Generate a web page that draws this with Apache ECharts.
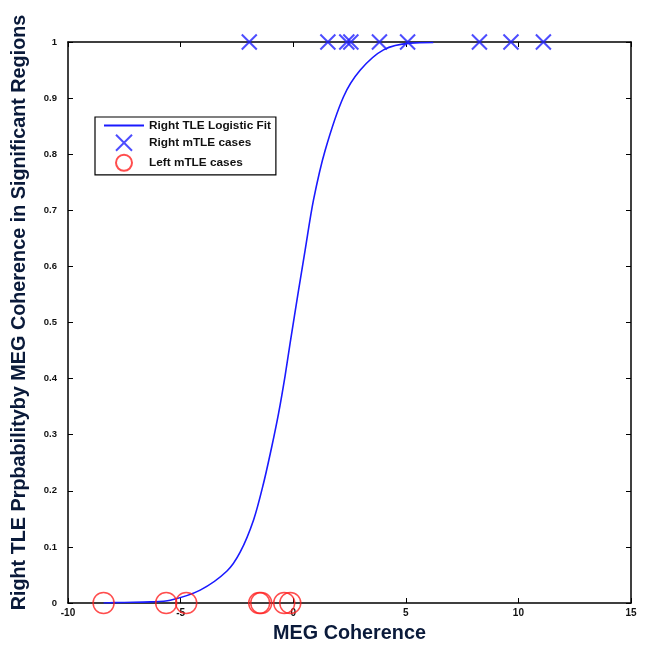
<!DOCTYPE html>
<html>
<head>
<meta charset="utf-8">
<script src="https://cdn.jsdelivr.net/npm/echarts@6/dist/echarts.min.js"></script>
<style>html,body{margin:0;padding:0;background:#fff;}#c{width:650px;height:645px;}</style>
</head>
<body>
<div id="c"></div>
<script>
// Logistic fit curve
const fitX = [-8.42, -7.5, -6.35, -5.46, -4.13, -2.94, -2.35, -1.76, -1.32, -0.95, -0.65, -0.36, -0.13, 0.24, 0.53, 0.90, 1.42, 2.23, 2.98, 4.01, 5.20, 6.22];
const fitY = [0.000, 0.001, 0.002, 0.005, 0.023, 0.057, 0.091, 0.148, 0.213, 0.279, 0.338, 0.405, 0.465, 0.558, 0.629, 0.718, 0.807, 0.902, 0.950, 0.986, 0.998, 0.999];
// Right mTLE cases (y = 1)
const rightX = [-1.95, 1.54, 2.38, 2.56, 3.83, 5.08, 8.27, 9.67, 11.11];
const rightY = [1, 1, 1, 1, 1, 1, 1, 1, 1];
// Left mTLE cases (y = 0)
const leftX = [-8.42, -5.64, -4.75, -1.51, -1.42, -0.40, -0.13];
const leftY = [0, 0, 0, 0, 0, 0, 0];
const xTicks = [-10, -5, 0, 5, 10, 15];
const yTicks = [0, 0.1, 0.2, 0.3, 0.4, 0.5, 0.6, 0.7, 0.8, 0.9, 1];

const fitData = fitX.map((x, i) => [x, fitY[i]]);
const rightData = rightX.map((x, i) => [x, rightY[i]]);
const leftData = leftX.map((x, i) => [x, leftY[i]]);

const font = '"Liberation Sans", Arial, sans-serif';
const crossPath = 'path://M0,0L10,10M10,0L0,10';

const chart = echarts.init(document.getElementById('c'), null, {renderer: 'canvas'});
const axisBase = {
  type: 'value',
  axisLine: {show: true, onZero: false, lineStyle: {color: '#000', width: 1.5}},
  axisTick: {show: true, inside: true, length: 5, lineStyle: {color: '#000', width: 1}},
  splitLine: {show: false}
};
chart.setOption({
  animation: false,
  backgroundColor: '#fff',
  grid: {left: 68, right: 19, top: 42, bottom: 42, containLabel: false, outerBoundsMode: 'none'},
  legend: {
    orient: 'vertical',
    left: 95, top: 117,
    backgroundColor: '#fff',
    borderColor: '#000', borderWidth: 1.2,
    padding: [2, 5, 3, 8],
    itemGap: 2,
    itemWidth: 40, itemHeight: 16,
    textStyle: {fontFamily: font, fontSize: 11.8, color: '#111', fontWeight: 'bold', padding: [0, 4, 0, 0]},
    data: [
      {name: 'Right TLE Logistic Fit', itemStyle: {opacity: 0}},
      {name: 'Right mTLE cases'},
      {name: 'Left mTLE cases'}
    ]
  },
  xAxis: [
    Object.assign({}, axisBase, {
      min: -10, max: 15, interval: 5,
      name: 'MEG Coherence', nameLocation: 'middle', nameGap: 21,
      nameTextStyle: {fontFamily: font, fontSize: 19.8, fontWeight: 'bold', color: '#0a1a3a'},
      axisLabel: {fontFamily: font, fontSize: 10, fontWeight: 'bold', color: '#111', margin: 5,
        formatter: v => xTicks.includes(v) ? String(v) : ''}
    }),
    Object.assign({}, axisBase, {
      position: 'top', min: -10, max: 15, interval: 5, axisLabel: {show: false}
    })
  ],
  yAxis: [
    Object.assign({}, axisBase, {
      min: 0, max: 1, interval: 0.1,
      name: 'Right TLE Prpbabilityby MEG Coherence in Significant Regions',
      nameLocation: 'middle', nameGap: 38,
      nameTextStyle: {fontFamily: font, fontSize: 19.8, fontWeight: 'bold', color: '#0a1a3a', padding: [0, 0, 0, 20]},
      axisLabel: {fontFamily: font, fontSize: 9.5, fontWeight: 'bold', color: '#111', margin: 11,
        formatter: v => {
          const r = Math.round(v * 10) / 10;
          return yTicks.includes(r) ? String(r) : '';
        }}
    }),
    Object.assign({}, axisBase, {
      position: 'right', min: 0, max: 1, interval: 0.1, axisLabel: {show: false}
    })
  ],
  series: [
    {
      name: 'Right TLE Logistic Fit',
      type: 'line',
      data: fitData,
      smooth: 0.3,
      symbol: 'none',
      lineStyle: {color: '#1a1aff', width: 1.6},
      itemStyle: {color: '#1a1aff'},
      z: 3
    },
    {
      name: 'Right mTLE cases',
      type: 'scatter',
      data: rightData,
      symbol: crossPath,
      symbolSize: 15,
      itemStyle: {color: 'rgba(0,0,0,0)', borderColor: '#2020ff', borderWidth: 2},
      z: 4
    },
    {
      name: 'Left mTLE cases',
      type: 'scatter',
      data: leftData,
      symbol: 'circle',
      symbolSize: 21,
      itemStyle: {color: 'rgba(0,0,0,0)', borderColor: '#ff2020', borderWidth: 1.5},
      z: 4
    }
  ]
});
</script>
</body>
</html>
